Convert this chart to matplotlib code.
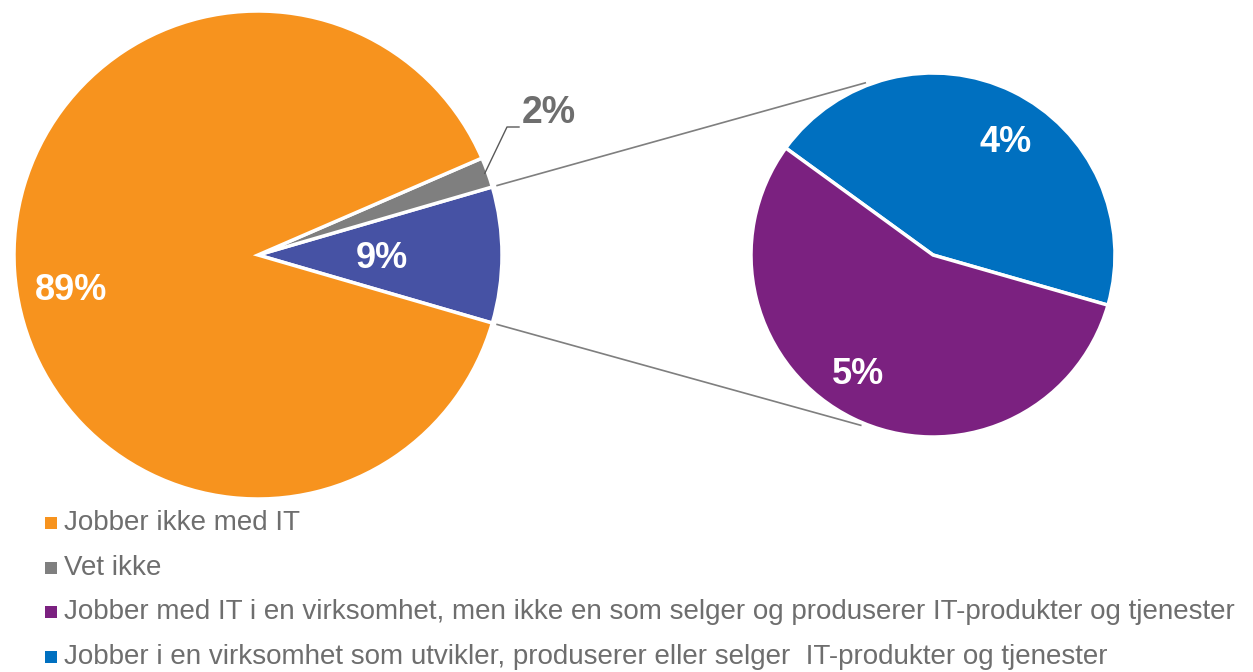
import numpy as np
import matplotlib.pyplot as plt

plt.rcParams['font.family'] = ['Liberation Sans', 'DejaVu Sans']

# main pie (share of respondents)
main_labels = ['Jobber med IT', 'Vet ikke', 'Jobber ikke med IT']
main_values = [9, 2, 89]
main_colors = ['#4652A4', '#7F7F7F', '#F7931E']

# breakdown of "Jobber med IT"
sub_labels = ['Jobber i en virksomhet som utvikler, produserer eller selger  IT-produkter og tjenester',
              'Jobber med IT i en virksomhet, men ikke en som selger og produserer IT-produkter og tjenester']
sub_values = [4, 5]
sub_colors = ['#0070C0', '#7B2180']

legend_labels = ['Jobber ikke med IT', 'Vet ikke', sub_labels[1], sub_labels[0]]
legend_colors = ['#F7931E', '#7F7F7F', '#7B2180', '#0070C0']

W, H = 1253, 672
fig = plt.figure(figsize=(W / 100, H / 100), dpi=100)
ax = fig.add_axes([0, 0, 1, 1])

c1, r1 = (258, H - 255), 244
c2, r2 = (933, H - 255), 182

start1 = -main_values[0] / 100 * 360 / 2
ax.pie(main_values, colors=main_colors, startangle=start1, center=c1, radius=r1,
       wedgeprops=dict(edgecolor='white', linewidth=2.5), frame=True)
ax.pie(sub_values, colors=sub_colors, startangle=-16, center=c2, radius=r2,
       wedgeprops=dict(edgecolor='white', linewidth=2.5), frame=True)
ax.set_xlim(0, W)
ax.set_ylim(0, H)
ax.set_aspect('equal')
ax.axis('off')

def pt(c, r, ang):
    a = np.deg2rad(ang)
    return c[0] + r * np.cos(a), c[1] + r * np.sin(a)

# connector lines between the two pies
for a1, a2 in [(-start1, 111.5), (start1, -113)]:
    p1 = pt(c1, r1 + 5, a1)
    p2 = pt(c2, r2 + 3, a2)
    ax.plot([p1[0], p2[0]], [p1[1], p2[1]], color='#7F7F7F', lw=1.2)

# value labels
bold = dict(fontsize=26, fontweight='bold', ha='center', va='center')
ax.text(71, H - 290, f'{main_values[2]}%', color='white', **bold)
ax.text(382, H - 258, f'{main_values[0]}%', color='white', **bold)
ax.text(1006, H - 143, f'{sub_values[0]}%', color='white', **bold)
ax.text(858, H - 375, f'{sub_values[1]}%', color='white', **bold)

# 2% with leader
lp = pt(c1, r1 - 3, -start1 + main_values[1] / 100 * 360 / 2)
ax.plot([lp[0], 507, 519], [lp[1], H - 127, H - 127], color='#595959', lw=1)
ax.text(522, H - 113, f'{main_values[1]}%', color='#6E6E6E', fontsize=27,
        fontweight='bold', ha='left', va='center')

# legend
for i, (lab, col) in enumerate(zip(legend_labels, legend_colors)):
    y = H - (523 + i * 44.7)
    ax.scatter([51], [y], marker='s', s=65, color=col, linewidths=0)
    ax.text(64, y, lab, fontsize=20.0, color='#6E6E6E', ha='left', va='center')

fig.savefig('out.png', dpi=100)
